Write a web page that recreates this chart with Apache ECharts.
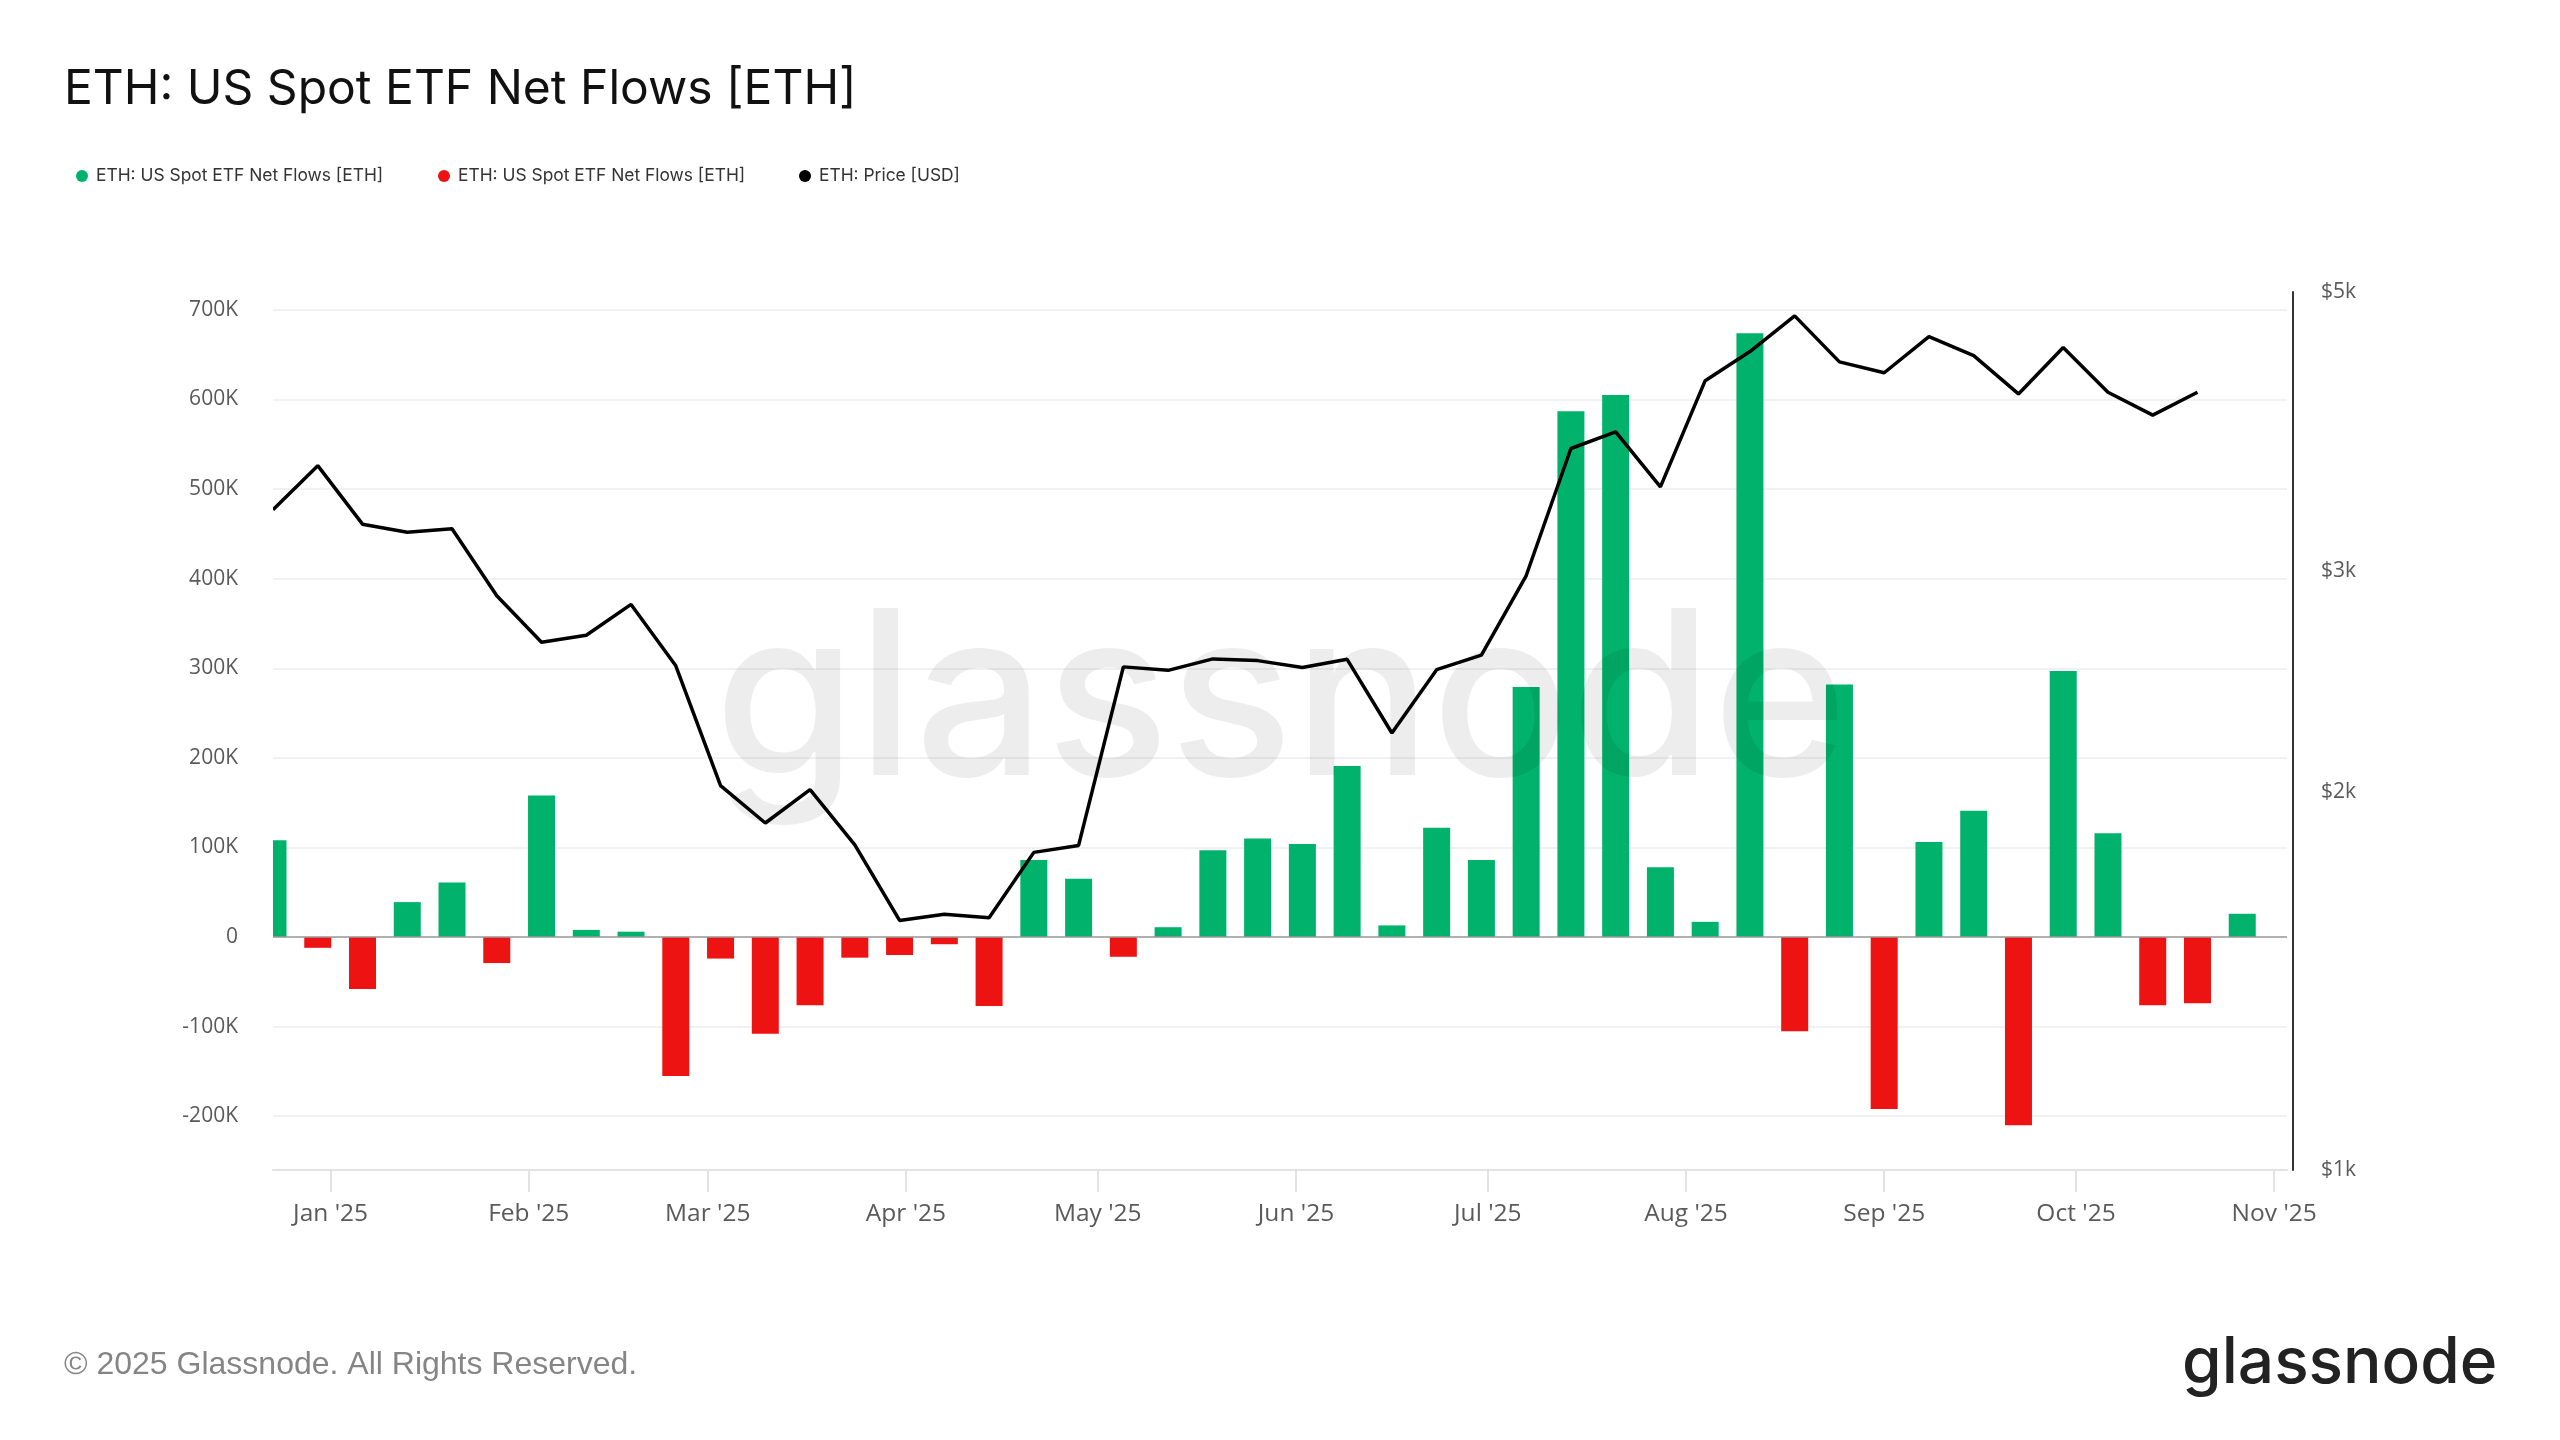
<!DOCTYPE html>
<html>
<head>
<meta charset="utf-8">
<script src="https://cdn.jsdelivr.net/npm/echarts@6/dist/echarts.min.js"></script>
<style>
html,body{margin:0;padding:0;background:#ffffff;}
#chart{width:2560px;height:1440px;}
</style>
</head>
<body>
<div id="chart"></div>
<script>
// ---------- data ----------
const weeks = [
  '2024-12-23','2024-12-30','2025-01-06','2025-01-13','2025-01-20','2025-01-27',
  '2025-02-03','2025-02-10','2025-02-17','2025-02-24','2025-03-03','2025-03-10',
  '2025-03-17','2025-03-24','2025-03-31','2025-04-07','2025-04-14','2025-04-21',
  '2025-04-28','2025-05-05','2025-05-12','2025-05-19','2025-05-26','2025-06-02',
  '2025-06-09','2025-06-16','2025-06-23','2025-06-30','2025-07-07','2025-07-14',
  '2025-07-21','2025-07-28','2025-08-04','2025-08-11','2025-08-18','2025-08-25',
  '2025-09-01','2025-09-08','2025-09-15','2025-09-22','2025-09-29','2025-10-06',
  '2025-10-13','2025-10-20','2025-10-27'
];
// weekly net flows, ETH
const netFlows = [
  108000, -12000, -58000, 39000, 61000, -29000,
  158000, 8000, 6000, -155000, -24000, -108000,
  -76000, -23000, -20000, -8000, -77000, 86000,
  65000, -22000, 11000, 97000, 110000, 104000,
  191000, 13000, 122000, 86000, 279000, 587000,
  605000, 78000, 17000, 674000, -105000, 282000,
  -192000, 106000, 141000, -210000, 297000, 116000,
  -76000, -74000, 26000
];
// ETH price, USD (one value per week, last week has none)
const priceUsd = [
  3355, 3637, 3267, 3219, 3240, 2865,
  2631, 2665, 2820, 2520, 2023, 1889,
  2008, 1815, 1580, 1598, 1588, 1790,
  1813, 2515, 2499, 2552, 2544, 2512,
  2550, 2228, 2502, 2570, 2972, 3753,
  3869, 3498, 4250, 4483, 4786, 4399,
  4312, 4608, 4450, 4148, 4516, 4161,
  3990, 4161
];
const flowTicks = [-200000, -100000, 0, 100000, 200000, 300000, 400000, 500000, 600000, 700000];
const priceTicks = [1000, 2000, 3000, 5000];
const monthNames = ['Jan','Feb','Mar','Apr','May','Jun','Jul','Aug','Sep','Oct','Nov','Dec'];
const xStart = '2024-12-23';
const xEnd = '2025-11-03';
const flowMin = -260000;
const flowMax = 720000;
const priceMin = 1000;
const priceMax = 5000;
const DAY = 86400000;

// layout
const GRID_LEFT = 273, GRID_RIGHT = 273, GRID_TOP = 292, GRID_BOTTOM = 270;
const PLOT_W = 2560 - GRID_LEFT - GRID_RIGHT;
const PLOT_BOTTOM_Y = 1440 - GRID_BOTTOM;
const BAR_W = 27;

// ECharts widens a bar base axis by the bar width; pull min/max in so the
// visible range stays exactly [xStart, xEnd].
const t0 = Date.parse(xStart + 'T00:00:00');
const t1 = Date.parse(xEnd + 'T00:00:00');
const pad = (t1 - t0) * BAR_W / PLOT_W / 2;

const legendNames = {
  inflow: 'ETH: US Spot ETF Net Flows [ETH]',
  outflow: 'ETH: US Spot ETF Net Flows [ETH]',
  price: 'ETH: Price [USD]'
};

// ---------- build series data ----------
const inflowData = [];
const outflowData = [];
weeks.forEach(function (w, i) {
  if (netFlows[i] >= 0) inflowData.push([w, netFlows[i]]);
  else outflowData.push([w, netFlows[i]]);
});
const priceData = priceUsd.map(function (p, i) { return [weeks[i], p]; });

const GREEN = '#00b26b';
const RED = '#ee1313';
const LABEL = '#5a5a5a';

const chart = echarts.init(document.getElementById('chart'), null, {renderer: 'canvas'});

function legendFor(name, left) {
  return {
    data: [name],
    left: left,
    top: 161,
    icon: 'circle',
    itemWidth: 12,
    itemHeight: 12,
    selectedMode: false,
    formatter: function (n) { return legendNames[n]; },
    textStyle: {fontFamily: 'Inter', fontSize: 17.4, color: '#333', padding: [0, 0, 0, 3], lineHeight: 20}
  };
}

const option = {
  animation: false,
  backgroundColor: '#ffffff',
  title: {
    text: 'ETH: US Spot ETF Net Flows [ETH]',
    left: 64,
    top: 66,
    padding: 0,
    textStyle: {fontFamily: 'Inter', fontSize: 48, fontWeight: 'normal', color: '#111'}
  },
  legend: [
    legendFor('inflow', 71),
    legendFor('outflow', 433),
    legendFor('price', 794)
  ],
  grid: {left: GRID_LEFT, right: GRID_RIGHT, top: GRID_TOP, bottom: GRID_BOTTOM, containLabel: false},
  xAxis: {
    type: 'time',
    min: t0 + pad,
    max: t1 - pad,
    minInterval: 28 * DAY,
    maxInterval: 31 * DAY,
    axisLine: {show: true, onZero: false, lineStyle: {color: '#e2e2e2', width: 2}},
    axisTick: {show: true, length: 22, lineStyle: {color: '#e2e2e2', width: 2}},
    axisLabel: {
      margin: 32,
      fontFamily: 'Open Sans',
      fontSize: 24.5,
      color: LABEL,
      formatter: function (v) {
        const d = new Date(v);
        return monthNames[d.getMonth()] + " '" + String(d.getFullYear()).slice(2);
      }
    },
    splitLine: {show: false}
  },
  yAxis: [
    {
      type: 'value',
      min: flowMin,
      max: flowMax,
      axisLine: {show: false},
      axisTick: {show: false, customValues: flowTicks},
      axisLabel: {
        customValues: flowTicks,
        margin: 35,
        fontFamily: 'Open Sans',
        fontSize: 21,
        color: LABEL,
        formatter: function (v) { return v === 0 ? '0' : (v / 1000) + 'K'; }
      },
      splitLine: {show: true, lineStyle: {color: '#ececec', width: 1.5}}
    },
    {
      type: 'log',
      logBase: 10,
      min: priceMin,
      max: priceMax,
      position: 'right',
      offset: 6,
      axisLine: {show: true, lineStyle: {color: '#333', width: 2}},
      axisTick: {show: false},
      axisLabel: {
        customValues: priceTicks,
        margin: 28,
        fontFamily: 'Open Sans',
        fontSize: 21,
        color: LABEL,
        formatter: function (v) { return '$' + Math.round(v / 1000) + 'k'; }
      },
      splitLine: {show: false}
    }
  ],
  series: [
    {
      name: 'inflow',
      type: 'bar',
      xAxisIndex: 0,
      yAxisIndex: 0,
      data: inflowData,
      barWidth: BAR_W,
      barGap: '-100%',
      clip: true,
      itemStyle: {color: GREEN},
      z: 2,
      markLine: {
        silent: true,
        symbol: 'none',
        label: {show: false},
        lineStyle: {color: '#9a9a9a', width: 1.5, type: 'solid'},
        data: [{yAxis: 0}]
      }
    },
    {
      name: 'outflow',
      type: 'bar',
      xAxisIndex: 0,
      yAxisIndex: 0,
      data: outflowData,
      barWidth: BAR_W,
      barGap: '-100%',
      clip: true,
      itemStyle: {color: RED},
      z: 2
    },
    {
      name: 'price',
      type: 'line',
      xAxisIndex: 0,
      yAxisIndex: 1,
      data: priceData,
      showSymbol: false,
      symbol: 'circle',
      itemStyle: {color: '#000'},
      lineStyle: {color: '#000', width: 3.5},
      z: 5
    }
  ],
  graphic: [
    {
      // keeps the half-width of the first bar inside the plot, like the reference
      type: 'rect',
      silent: true,
      z: 50,
      shape: {x: GRID_LEFT - 30, y: GRID_TOP - 2, width: 30, height: PLOT_BOTTOM_Y - GRID_TOP + 1},
      style: {fill: '#ffffff'}
    },
    {
      type: 'text',
      silent: true,
      z: 100,
      style: {
        text: 'glassnode',
        x: 1281,
        y: 706,
        textAlign: 'center',
        textVerticalAlign: 'middle',
        font: '500 230px Inter',
        fill: 'rgba(0,0,0,0.07)'
      }
    },
    {
      type: 'text',
      silent: true,
      style: {
        text: '\u00a9 2025 Glassnode. All Rights Reserved.',
        x: 64,
        y: 1365,
        textAlign: 'left',
        textVerticalAlign: 'middle',
        font: '32px "Liberation Sans", Arial, sans-serif',
        fill: '#858585'
      }
    },
    {
      type: 'text',
      silent: true,
      style: {
        text: 'glassnode',
        x: 2182,
        y: 1364,
        textAlign: 'left',
        textVerticalAlign: 'middle',
        font: '500 64px Inter',
        fill: '#222'
      }
    }
  ]
};

chart.setOption(option);
</script>
</body>
</html>
